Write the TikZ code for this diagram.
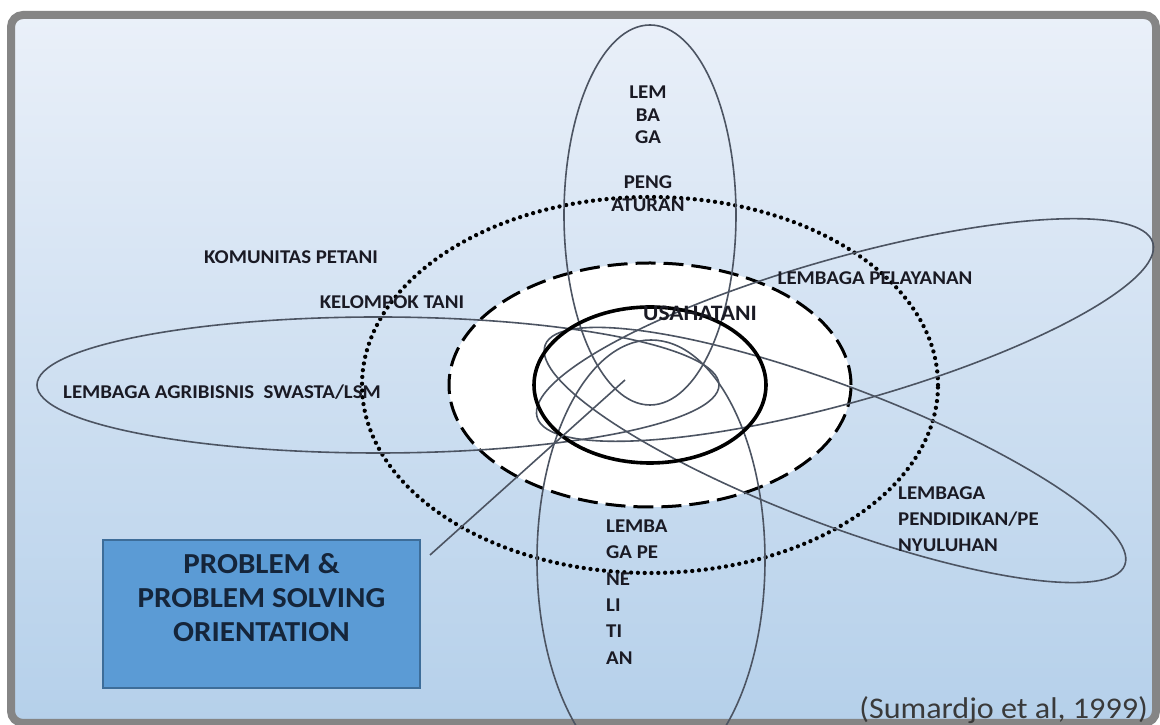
\documentclass[tikz,border=0pt]{standalone}
\usepackage{fontspec}
\setmainfont{Carlito}[FakeStretch=1.07]
\definecolor{bgtop}{HTML}{EAF0F9}
\definecolor{bgbot}{HTML}{B5D0EA}
\definecolor{framec}{HTML}{858585}
\definecolor{petalc}{HTML}{4C5462}
\definecolor{txtc}{HTML}{1A1A24}
\definecolor{boxfill}{HTML}{5B9BD5}
\definecolor{boxline}{HTML}{3D6D99}
\definecolor{boxtxt}{HTML}{15253A}
\definecolor{citec}{HTML}{3A3A3A}
\begin{document}
\begin{tikzpicture}[x=1pt,y=1pt,
  petal/.style={draw=petalc, line width=1.6pt},
  lbl/.style={font=\bfseries\fontsize{19.5}{22}\selectfont, text=txtc, inner sep=0pt},
]
\useasboundingbox (0,0) rectangle (1160,725);
\fill[white] (0,0) rectangle (1160,725);
\draw[framec, line width=8pt, rounded corners=12pt, top color=bgtop, bottom color=bgbot] (11,2) rectangle (1156,710);
\coordinate (C) at (650,340);
% community (dotted)
\draw[line width=4.3pt, dash pattern=on 0pt off 6.8pt, line cap=round] (C) ellipse [x radius=288pt, y radius=188pt];
% farmer group (dashed, white)
\draw[line width=3pt, dash pattern=on 20pt off 8pt, fill=white] (C) ellipse [x radius=201pt, y radius=122pt];
% petals
\draw[petal] (650,510) ellipse [x radius=86pt, y radius=190pt];
\draw[petal] (651,165) ellipse [x radius=114pt, y radius=220pt];
\draw[petal] (378,340) ellipse [x radius=341pt, y radius=68pt];
\draw[petal, rotate around={15.8:(845,395)}] (845,395) ellipse [x radius=320pt, y radius=72pt];
\draw[petal, rotate around={-20.8:(835,270)}] (835,270) ellipse [x radius=310pt, y radius=69pt];
% usahatani (solid)
\draw[line width=3.6pt] (C) ellipse [x radius=116pt, y radius=78pt];
% box and pointer
\node[draw=boxline, fill=boxfill, line width=1.5pt, minimum width=317pt, minimum height=148pt,
  align=center, font=\bfseries\fontsize{29}{34}\selectfont, text=boxtxt, inner sep=0pt]
  (prob) at (261.5,111) {PROBLEM \&\\PROBLEM SOLVING\\ORIENTATION\\\mbox{}};
\coordinate (pstart) at (430,170);
\coordinate (pend) at (625,345);
\draw[petal] (pstart) -- (pend);
% labels
\node[lbl] (kom) at (291,468) {KOMUNITAS PETANI};
\node[lbl] (kel) at (392,423) {KELOMPOK TANI};
\node[lbl] (agr) at (222,333) {LEMBAGA AGRIBISNIS\ \ SWASTA/LSM};
\node[lbl] (pel) at (875,447) {LEMBAGA PELAYANAN};
\node[lbl, font=\bfseries\fontsize{22}{26}\selectfont] (usa) at (700,412) {USAHATANI};
\node[lbl, align=center, font=\bfseries\fontsize{19.5}{22.5}\selectfont] (peng) at (648,576) {LEM\\BA\\GA\\\mbox{}\\PENG\\ATURAN};
\node[lbl, align=left, anchor=west, font=\bfseries\fontsize{19.5}{26.4}\selectfont] (lit) at (606,133) {LEMBA\\GA PE\\NE\\LI\\TI\\AN};
\node[lbl, align=left, anchor=west, font=\bfseries\fontsize{19.5}{26}\selectfont] (pdk) at (898,206) {LEMBAGA\\PENDIDIKAN/PE\\NYULUHAN};
\node[font=\fontsize{30}{32}\selectfont, text=citec, anchor=east, inner sep=0pt] (cit) at (1148,15) {(Sumardjo et al, 1999)};
\end{tikzpicture}
\end{document}
